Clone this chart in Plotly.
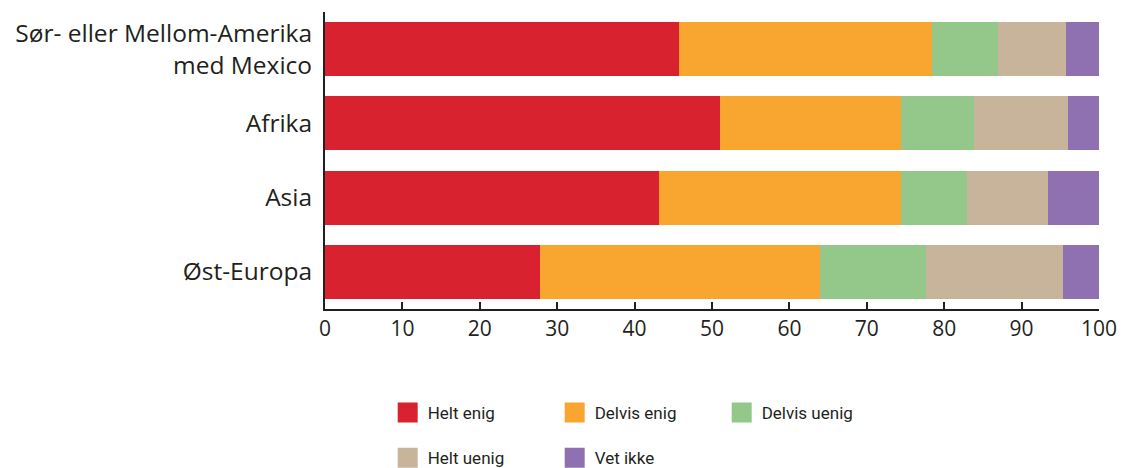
import plotly.graph_objects as go

regions = ["Sør- eller Mellom-Amerika<br>med Mexico", "Afrika", "Asia", "Øst-Europa"]
answers = ["Helt enig", "Delvis enig", "Delvis uenig", "Helt uenig", "Vet ikke"]
colors = ["#d9222f", "#f9a630", "#94c88a", "#c8b49b", "#8f70b0"]

helt_enig = [45.8, 51.0, 43.1, 27.8]
delvis_enig = [32.6, 23.4, 31.3, 36.1]
delvis_uenig = [8.6, 9.4, 8.6, 13.8]
helt_uenig = [8.7, 12.2, 10.4, 17.6]
vet_ikke = [4.3, 4.0, 6.6, 4.7]

series = [helt_enig, delvis_enig, delvis_uenig, helt_uenig, vet_ikke]
# first three in legend row 1, last two in row 2
legend_rows = ["legend", "legend", "legend", "legend2", "legend2"]

font_family = "Open Sans, sans-serif"
text_color = "#231f20"

fig = go.Figure()
for name, vals, col in zip(answers, series, colors):
    fig.add_trace(go.Bar(
        y=regions,
        x=vals,
        name=name,
        orientation="h",
        marker=dict(color=col, line=dict(width=0)),
        showlegend=False,
    ))

# legend-only square swatches (bigger than the default bar swatch)
for name, col, lg in zip(answers, colors, legend_rows):
    fig.add_trace(go.Scatter(
        x=[None], y=[None],
        mode="markers",
        name=name,
        marker=dict(symbol="square", size=20, color=col, line=dict(color=col, width=4)),
        legend=lg,
        hoverinfo="skip",
    ))

legend_style = dict(
    orientation="h",
    xanchor="left",
    yanchor="middle",
    x=0.081,
    traceorder="normal",
    itemsizing="trace",
    font=dict(family="Roboto, sans-serif", size=17, color=text_color),
    entrywidth=122,
    bgcolor="rgba(0,0,0,0)",
)

fig.update_layout(
    barmode="stack",
    bargap=0.27,
    width=1122,
    height=468,
    margin=dict(l=325, r=23, t=12, b=159, autoexpand=False),
    plot_bgcolor="white",
    paper_bgcolor="white",
    font=dict(family=font_family, color=text_color),
    legend=dict(legend_style, y=-0.35),
    legend2=dict(legend_style, y=-0.502),
)

fig.update_xaxes(
    range=[0, 100],
    dtick=10,
    showgrid=False,
    zeroline=False,
    showline=True,
    linecolor=text_color,
    linewidth=2,
    ticks="inside",
    ticklen=7,
    tickwidth=2,
    tickcolor=text_color,
    tickfont=dict(size=21, color=text_color),
    ticklabeloverflow="allow",
    automargin=False,
)
fig.update_yaxes(
    autorange="reversed",
    showgrid=False,
    zeroline=False,
    showline=True,
    linecolor=text_color,
    linewidth=2,
    ticks="",
    ticklabelstandoff=6,
    tickfont=dict(size=24.5, color=text_color),
    automargin=False,
)

# drop the default body margin so the 1122x468 figure fills the window
fig.write_html(
    "out.html",
    config={"displayModeBar": False},
    post_script="document.body.style.margin='0';",
)
